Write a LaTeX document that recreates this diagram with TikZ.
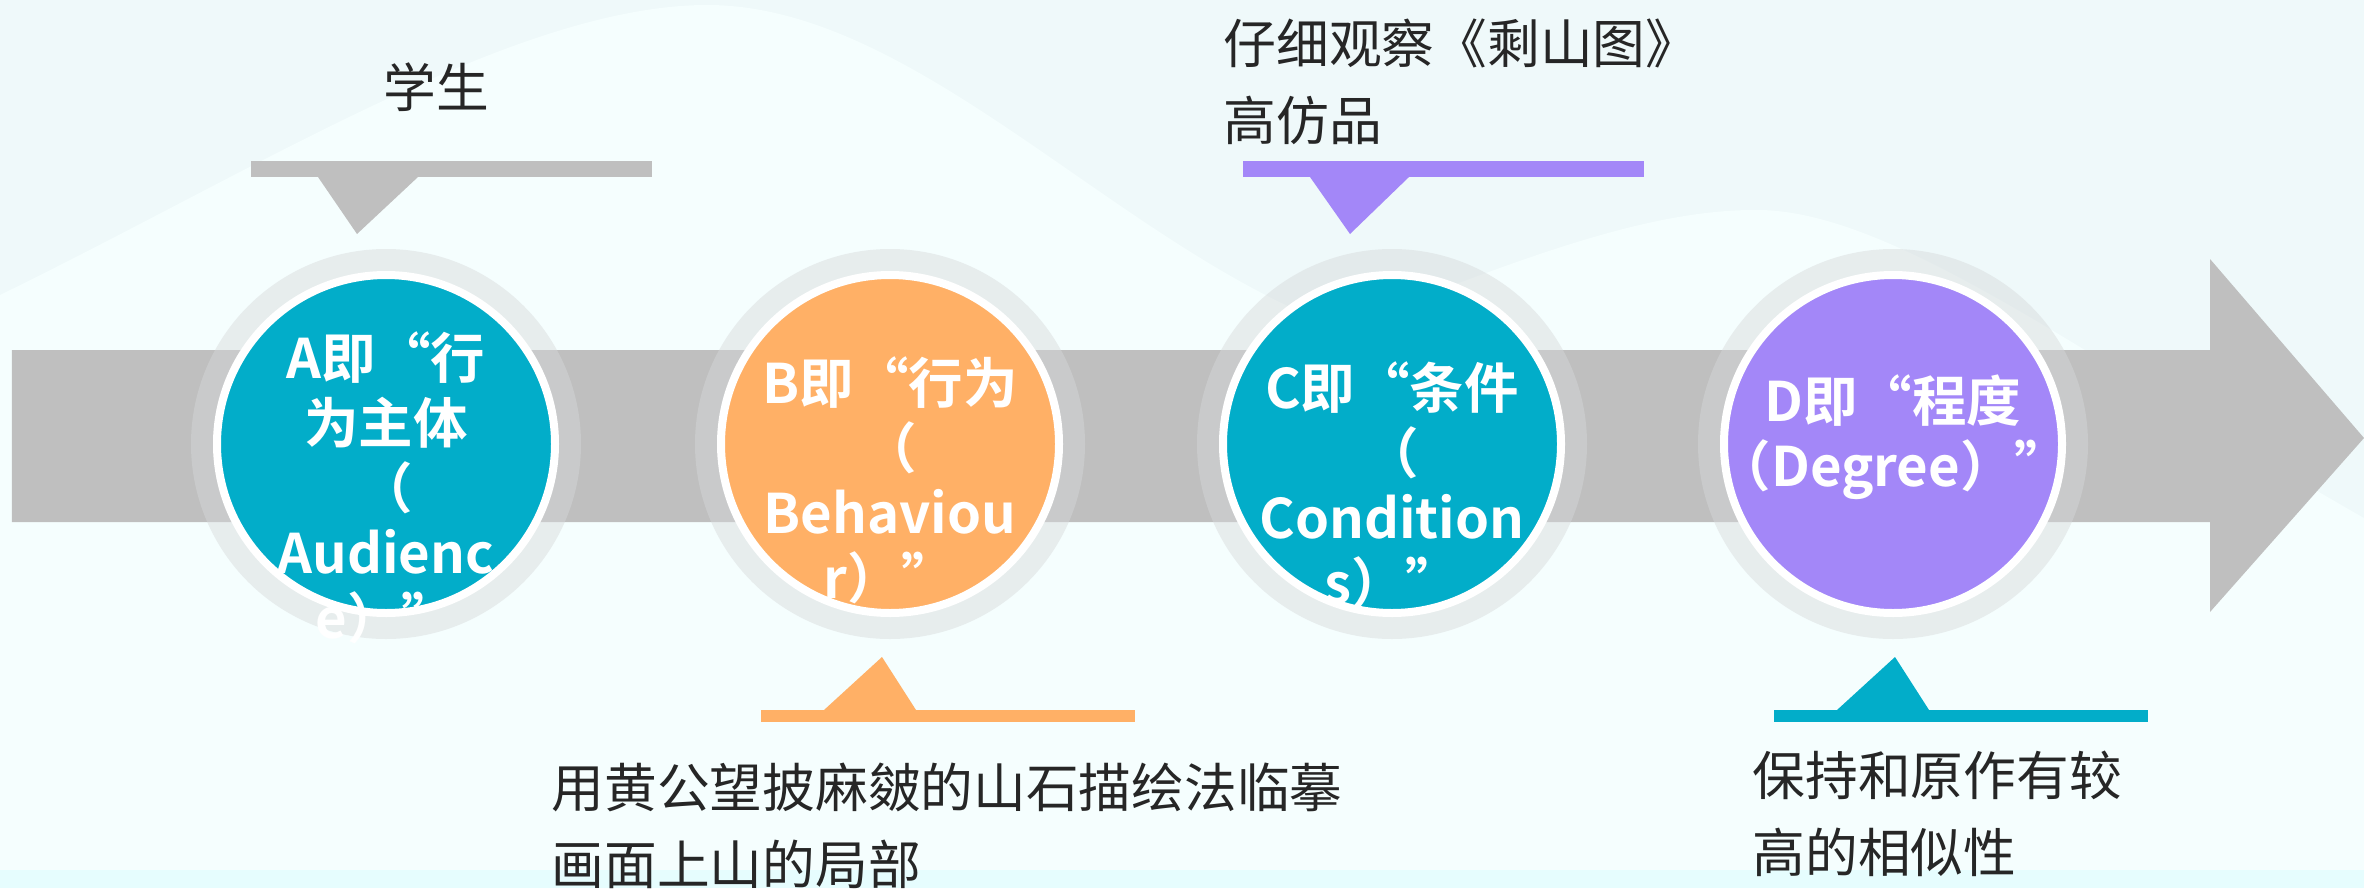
\documentclass[tikz,border=0pt]{standalone}
\usepackage{fontspec}
\setmainfont{Noto Sans CJK SC}[BoldFont={Noto Sans CJK SC Bold}]
\usetikzlibrary{calc,positioning}
\definecolor{cteal}{RGB}{2,173,201}
\definecolor{corange}{RGB}{255,176,102}
\definecolor{cpurple}{RGB}{163,135,248}
\definecolor{cshaft}{RGB}{191,191,191}
\definecolor{chalo}{RGB}{214,217,218}
\definecolor{ctext}{RGB}{38,38,38}
\definecolor{cbgtop}{RGB}{239,249,250}
\definecolor{cbghill}{RGB}{245,254,254}
\definecolor{cstrip}{RGB}{230,253,254}

\begin{document}
\begin{tikzpicture}[
    halo/.style={fill=chalo, fill opacity=0.45},
    stage/.style={circle, inner sep=0pt, minimum size=3.38cm, draw=white, line width=0.8mm},
    stagetext/.style={text=white, align=center, inner sep=0pt,
      font=\fontsize{15.5pt}{18.5pt}\selectfont\bfseries},
    note/.style={anchor=north west, inner sep=0pt, align=left, text=ctext,
      font=\fontsize{15pt}{21.9pt}\selectfont}
  ]
  \useasboundingbox (0,0) rectangle (23.64,8.88);
  \fill[cbgtop] (0,0) rectangle (23.64,8.88);
  \fill[cbghill] (0,0) -- (0,5.93) .. controls (2.6,7.2) and (5.2,8.85) .. (7.11,8.83)
    .. controls (9.2,8.8) and (11.2,6.4) .. (13.4,5.6)
    .. controls (15,6.2) and (16.4,6.8) .. (17.61,6.78)
    .. controls (19,6.75) and (21,5.2) .. (23.64,3.7) -- (23.64,0) -- cycle;
  \fill[cstrip] (0,0) rectangle (23.64,0.18);

  % the big arrow
  \fill[cshaft] (0.12,5.38) -- (22.10,5.38) -- (22.10,6.29) -- (23.64,4.50)
    -- (22.10,2.76) -- (22.10,3.66) -- (0.12,3.66) -- cycle;

  \foreach \x in {3.86,8.90,13.92,18.93}
    \fill[halo] (\x,4.44) circle (1.95);
  \node[stage, fill=cteal]   (ca) at (3.86,4.44) {};
  \node[stage, fill=corange] (cb) at (8.90,4.44) {};
  \node[stage, fill=cteal]   (cc) at (13.92,4.44) {};
  \node[stage, fill=cpurple] (cd) at (18.93,4.44) {};

  \node[stagetext] (ta) at ($(ca)+(0,-0.44)$) {A即“行\\为主体\\（\\Audienc\\e）”};
  \node[stagetext] (tb) at ($(cb)+(0,-0.36)$) {B即“行为\\（\\Behaviou\\r）”};
  \node[stagetext] (tc) at ($(cc)+(0,-0.41)$) {C即“条件\\（\\Condition\\s）”};
  \node[stagetext] (td) at ($(cd)+(0,0.07)$) {D即“程度\\（Degree）”};

  % pointers above
  \fill[cshaft] (2.51,7.11) rectangle (6.52,7.27);
  \fill[cshaft] (3.18,7.11) -- (4.18,7.11) -- (3.57,6.54) -- cycle;
  \fill[cpurple] (12.43,7.11) rectangle (16.44,7.27);
  \fill[cpurple] (13.10,7.11) -- (14.09,7.11) -- (13.50,6.54) -- cycle;
  % pointers below
  \fill[corange] (7.61,1.66) rectangle (11.35,1.78);
  \fill[corange] (8.24,1.78) -- (9.16,1.78) -- (8.82,2.31) -- cycle;
  \fill[cteal] (17.74,1.66) rectangle (21.48,1.78);
  \fill[cteal] (18.37,1.78) -- (19.29,1.78) -- (18.95,2.31) -- cycle;

  \node[note] (na) at (3.83,8.26) {学生};
  \node[note] (nc) at (12.23,8.70) {仔细观察《剩山图》\\高仿品};
  \node[note] (nb) at (5.51,1.26) {用黄公望披麻皴的山石描绘法临摹\\画面上山的局部};
  \node[note] (nd) at (17.52,1.38) {保持和原作有较\\高的相似性};
\end{tikzpicture}
\end{document}
